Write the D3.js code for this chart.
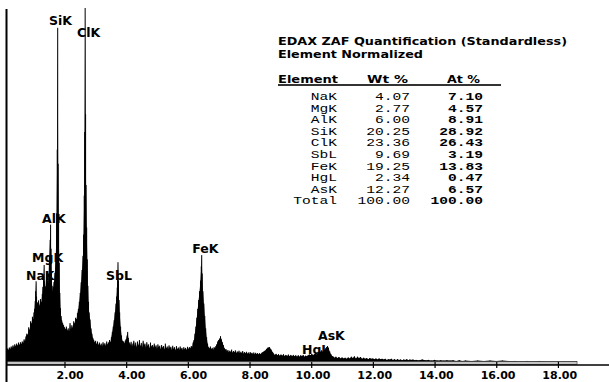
<!DOCTYPE html>
<html><head><meta charset="utf-8">
<script src="https://cdn.jsdelivr.net/npm/d3@7"></script>
<style>html,body{margin:0;padding:0;background:#fff;} svg{display:block;}</style>
</head><body><svg id="c" width="609" height="382"></svg>
<script>
// ---------- data ----------
const tickValues = [2, 4, 6, 8, 10, 12, 14, 16, 18];
const tickLabels = ["2.00", "4.00", "6.00", "8.00", "10.00", "12.00", "14.00", "16.00", "18.00"];

const peakLabels = ["SiK", "ClK", "AlK", "MgK", "NaK", "SbL", "FeK", "AsK", "HgL"];
const peakLabelKeV = [1.50, 2.41, 1.27, 0.95, 0.75, 3.35, 6.14, 10.22, 9.70];
const peakLabelCounts = [952, 918, 393, 282, 232, 232, 308, 62, 22];

const titleLines = ["EDAX ZAF Quantification (Standardless)", "Element Normalized"];
const tableHeader = ["Element", "Wt %", "At %"];
const elements = ["NaK", "MgK", "AlK", "SiK", "ClK", "SbL", "FeK", "HgL", "AsK", "Total"];
const wtPct = ["4.07", "2.77", "6.00", "20.25", "23.36", "9.69", "19.25", "2.34", "12.27", "100.00"];
const atPct = ["7.10", "4.57", "8.91", "28.92", "26.43", "3.19", "13.83", "0.47", "6.57", "100.00"];

// spectrum: [energy keV, counts]
const spectrumLow = [[0.12,30],[0.15,38],[0.18,34],[0.21,41],[0.24,36],[0.27,44],[0.30,39],[0.33,47],[0.36,41],[0.39,50],[0.42,44],[0.45,52],[0.48,46],[0.51,55],[0.54,48],[0.57,56],[0.60,50],[0.63,58],[0.66,53],[0.69,64],[0.72,58],[0.75,72],[0.78,80],[0.81,76],[0.84,98],[0.87,90],[0.90,115],[0.93,108],[0.96,128],[0.99,120],[1.01,140],[1.03,150],[1.05,172],[1.065,200],[1.08,228],[1.095,185],[1.11,160],[1.13,168],[1.16,174],[1.19,158],[1.22,178],[1.25,168],[1.28,192],[1.30,212],[1.32,242],[1.34,274],[1.355,228],[1.37,205],[1.39,214],[1.41,232],[1.425,250],[1.44,256],[1.455,228],[1.47,222],[1.49,250],[1.51,300],[1.535,345],[1.55,388],[1.565,320],[1.58,255],[1.60,215],[1.62,200],[1.64,212],[1.66,226],[1.69,252],[1.72,300],[1.745,420],[1.765,600],[1.78,944],[1.795,560],[1.81,400],[1.83,280],[1.85,195],[1.87,152],[1.89,130],[1.91,118],[1.94,110],[1.97,104]];
const spectrumCl = [[2.00,98],[2.03,92],[2.06,100],[2.09,88],[2.12,95],[2.15,86],[2.18,110],[2.21,92],[2.24,104],[2.27,96],[2.30,115],[2.33,108],[2.36,125],[2.39,120],[2.42,138],[2.45,150],[2.48,170],[2.51,195],[2.54,225],[2.57,260],[2.60,300],[2.62,360],[2.64,470],[2.655,650],[2.67,1000],[2.685,700],[2.70,500],[2.72,380],[2.74,290],[2.76,215],[2.78,170],[2.80,140],[2.83,120],[2.86,95],[2.89,80],[2.92,68],[2.95,62],[2.98,55],[3.01,60],[3.04,50],[3.07,58],[3.10,48],[3.13,55],[3.16,46],[3.19,52],[3.22,44],[3.25,56],[3.28,47],[3.31,53],[3.34,45],[3.37,58],[3.40,49],[3.43,55],[3.46,62],[3.49,56],[3.52,70],[3.55,85],[3.58,100],[3.61,118],[3.64,140],[3.67,165],[3.69,185],[3.71,210],[3.725,240],[3.735,282],[3.75,230],[3.77,175],[3.79,140],[3.82,100],[3.85,75],[3.88,60],[3.91,58],[3.94,52],[3.97,60],[4.00,65],[4.03,75],[4.05,85],[4.07,68],[4.10,55]];
const spectrumMid = [[4.13,48],[4.16,57],[4.19,44],[4.22,52],[4.25,60],[4.28,45],[4.31,55],[4.34,42],[4.37,58],[4.40,46],[4.43,62],[4.46,44],[4.49,54],[4.52,41],[4.55,60],[4.58,47],[4.61,52],[4.64,40],[4.67,56],[4.70,45],[4.73,50],[4.76,38],[4.79,55],[4.82,43],[4.85,48],[4.88,40],[4.91,52],[4.94,42],[4.97,47],[5.00,37],[5.03,50],[5.06,41],[5.09,46],[5.12,36],[5.15,48],[5.18,40],[5.21,45],[5.24,35],[5.27,52],[5.30,38],[5.33,44],[5.36,36],[5.39,47],[5.42,39],[5.45,43],[5.48,34],[5.51,46],[5.54,37],[5.57,42],[5.60,33],[5.63,45],[5.66,36],[5.69,41],[5.72,34],[5.75,44],[5.78,36],[5.81,40],[5.84,33],[5.87,42],[5.90,35],[5.93,40],[5.96,34],[5.99,43],[6.02,37],[6.05,42],[6.08,38],[6.11,45],[6.14,42],[6.17,55],[6.20,62],[6.23,80],[6.26,100],[6.29,125],[6.32,150],[6.35,175],[6.38,200],[6.41,230],[6.435,270],[6.45,302],[6.465,250],[6.49,200],[6.52,165],[6.55,130],[6.58,95],[6.61,70],[6.64,52],[6.67,42],[6.70,38],[6.73,44],[6.76,36],[6.79,40],[6.82,34],[6.85,42],[6.88,38],[6.91,45],[6.94,50],[6.97,58],[7.00,62],[7.03,66],[7.06,73],[7.09,64],[7.12,56],[7.15,48],[7.18,40],[7.21,35],[7.24,36],[7.27,29],[7.30,34],[7.33,27],[7.36,32],[7.39,28],[7.42,35],[7.45,26],[7.48,31],[7.51,27],[7.54,33],[7.57,25],[7.60,30],[7.63,26],[7.66,32],[7.69,24],[7.72,29],[7.75,25],[7.78,31],[7.81,23],[7.84,28],[7.87,24],[7.90,29],[7.93,23],[7.96,27],[7.99,22],[8.02,28],[8.05,23],[8.08,26],[8.11,22],[8.14,27],[8.17,21],[8.20,26],[8.23,22],[8.26,25],[8.29,21],[8.32,25],[8.35,22],[8.38,24],[8.41,27],[8.45,29],[8.50,32],[8.55,37],[8.60,41],[8.65,42],[8.70,35],[8.75,28]];
const spectrumHigh = [[8.78,24],[8.82,20],[8.86,23],[8.90,19],[8.94,22],[8.98,18],[9.02,21],[9.06,18],[9.10,22],[9.14,17],[9.18,20],[9.22,17],[9.26,21],[9.30,16],[9.34,20],[9.38,16],[9.42,20],[9.46,16],[9.50,19],[9.54,15],[9.58,19],[9.62,15],[9.66,19],[9.70,16],[9.74,20],[9.78,15],[9.82,18],[9.86,16],[9.90,19],[9.94,21],[9.98,19],[10.02,23],[10.06,19],[10.10,22],[10.14,25],[10.18,21],[10.22,27],[10.26,24],[10.30,29],[10.34,33],[10.38,28],[10.42,33],[10.46,38],[10.50,42],[10.53,45],[10.56,40],[10.60,30],[10.64,22],[10.68,17],[10.72,15],[10.76,12],[10.80,15],[10.85,11],[10.90,14],[10.95,10],[11.00,13],[11.05,10],[11.10,12],[11.15,9],[11.20,13],[11.25,10],[11.30,15],[11.35,11],[11.40,16],[11.45,10],[11.50,15],[11.55,11],[11.60,14],[11.65,9],[11.70,12],[11.75,9],[11.80,11],[11.85,8],[11.90,11],[11.95,9],[12.00,10],[12.05,8],[12.10,10],[12.15,7],[12.20,10],[12.25,8],[12.30,9],[12.35,7],[12.40,9],[12.45,6],[12.50,8],[12.55,7],[12.60,9],[12.65,6],[12.70,8],[12.75,6],[12.80,8],[12.85,6],[12.90,7],[12.95,5],[13.00,7],[13.05,6],[13.10,8],[13.15,5],[13.20,7],[13.25,6],[13.30,7],[13.35,5],[13.40,6],[13.50,5],[13.60,7],[13.70,5],[13.80,6],[13.90,4],[14.00,6],[14.10,4],[14.20,5],[14.30,4],[14.40,5],[14.50,4],[14.60,5],[14.70,3],[14.80,5],[14.90,3],[15.00,4],[15.20,3],[15.40,4],[15.60,3],[15.80,4],[16.00,3],[16.20,4],[16.40,3],[16.60,3],[16.80,2],[17.00,3],[17.20,2],[17.40,3],[17.60,2],[17.80,2],[18.00,2],[18.20,2],[18.40,2],[18.60,2],[18.62,0]];

// ---------- drawing ----------
const svg = d3.select("#c");
const W = 609, H = 382;
const x = d3.scaleLinear().domain([0, 20]).range([2.8, 619.6]);
const y = d3.scaleLinear().domain([0, 1000]).range([362, 8]);
const spectrum = [].concat(spectrumLow, spectrumCl, spectrumMid, spectrumHigh);
const bold = "DejaVu Sans";

// peak labels (under the spectrum, like the original)
svg.append("g").selectAll("text").data(peakLabels).join("text")
  .attr("x", (d, i) => x(peakLabelKeV[i]))
  .attr("y", (d, i) => y(peakLabelCounts[i]))
  .attr("font-family", bold).attr("font-weight", "bold").attr("font-size", 12.5)
  .attr("fill", "#000").text(d => d);

// spectrum
const area = d3.area().x(d => x(d[0])).y0(y(0)).y1(d => y(d[1]));
svg.append("path").datum(spectrum).attr("d", area).attr("fill", "#000");
svg.append("g").selectAll("line").data(spectrum).join("line")
  .attr("x1", d => x(d[0])).attr("x2", d => x(d[0]))
  .attr("y1", y(0)).attr("y2", d => y(d[1]))
  .attr("stroke", "#000").attr("stroke-width", 1);

// gray baseline band
const xEnd = x(spectrumHigh[spectrumHigh.length - 1][0]);
svg.append("rect").attr("x", 7).attr("y", 361.5).attr("width", xEnd - 7).attr("height", 3)
  .attr("fill", "#c4c4c4").attr("stroke", "#333").attr("stroke-width", 0.6);

// axis line
svg.append("line").attr("x1", 6).attr("x2", W).attr("y1", 365).attr("y2", 365)
  .attr("stroke", "#000").attr("stroke-width", 1.5);
// left vertical line
svg.append("line").attr("x1", 6.5).attr("x2", 6.5).attr("y1", 9).attr("y2", H)
  .attr("stroke", "#000").attr("stroke-width", 2);

const axis = d3.axisBottom(x).tickValues(tickValues)
  .tickFormat((d, i) => tickLabels[i]).tickSize(3);
const gx = svg.append("g").attr("transform", "translate(0,365)").call(axis);
gx.select(".domain").remove();
gx.selectAll(".tick line").attr("y1", -3).attr("y2", 3).attr("stroke", "#000").attr("stroke-width", 1.2);
gx.selectAll(".tick text").attr("text-anchor", "end").attr("x", 18.7).attr("y", 13.5).attr("dy", null)
  .attr("font-family", bold).attr("font-weight", "bold").attr("font-size", 11).attr("fill", "#000");

// title
svg.append("g").selectAll("text").data(titleLines).join("text")
  .attr("x", 278).attr("y", (d, i) => 45 + i * 12.5)
  .attr("textLength", (d, i) => i === 0 ? 289 : 145).attr("lengthAdjust", "spacingAndGlyphs")
  .attr("font-family", bold).attr("font-weight", "bold").attr("font-size", 10.5)
  .attr("fill", "#000").text(d => d);

// table header
const headX = [278, 367, 447];
const headW = [60, 41, 33];
svg.append("g").selectAll("text").data(tableHeader).join("text")
  .attr("x", (d, i) => headX[i]).attr("y", 82.5)
  .attr("textLength", (d, i) => headW[i]).attr("lengthAdjust", "spacingAndGlyphs")
  .attr("font-family", bold).attr("font-weight", "bold").attr("font-size", 10.5)
  .attr("fill", "#000").text(d => d);
svg.append("line").attr("x1", 278).attr("x2", 501).attr("y1", 85).attr("y2", 85)
  .attr("stroke", "#333").attr("stroke-width", 2);

// table body (stretched monospace)
const sx = 1.43;
const tb = svg.append("g").attr("transform", `scale(${sx},1)`)
  .attr("font-family", "Liberation Mono").attr("font-size", 10.2).attr("fill", "#000")
  .attr("text-anchor", "end");
const rowY = i => 100 + i * 11.6;
tb.selectAll("text.el").data(elements).join("text").attr("class", "el")
  .attr("x", 337 / sx).attr("y", (d, i) => rowY(i)).text(d => d);
tb.selectAll("text.wt").data(wtPct).join("text").attr("class", "wt")
  .attr("x", 410 / sx).attr("y", (d, i) => rowY(i)).text(d => d);
tb.selectAll("text.at").data(atPct).join("text").attr("class", "at")
  .attr("x", 483 / sx).attr("y", (d, i) => rowY(i)).attr("font-weight", "bold").text(d => d);
</script>
</body></html>
